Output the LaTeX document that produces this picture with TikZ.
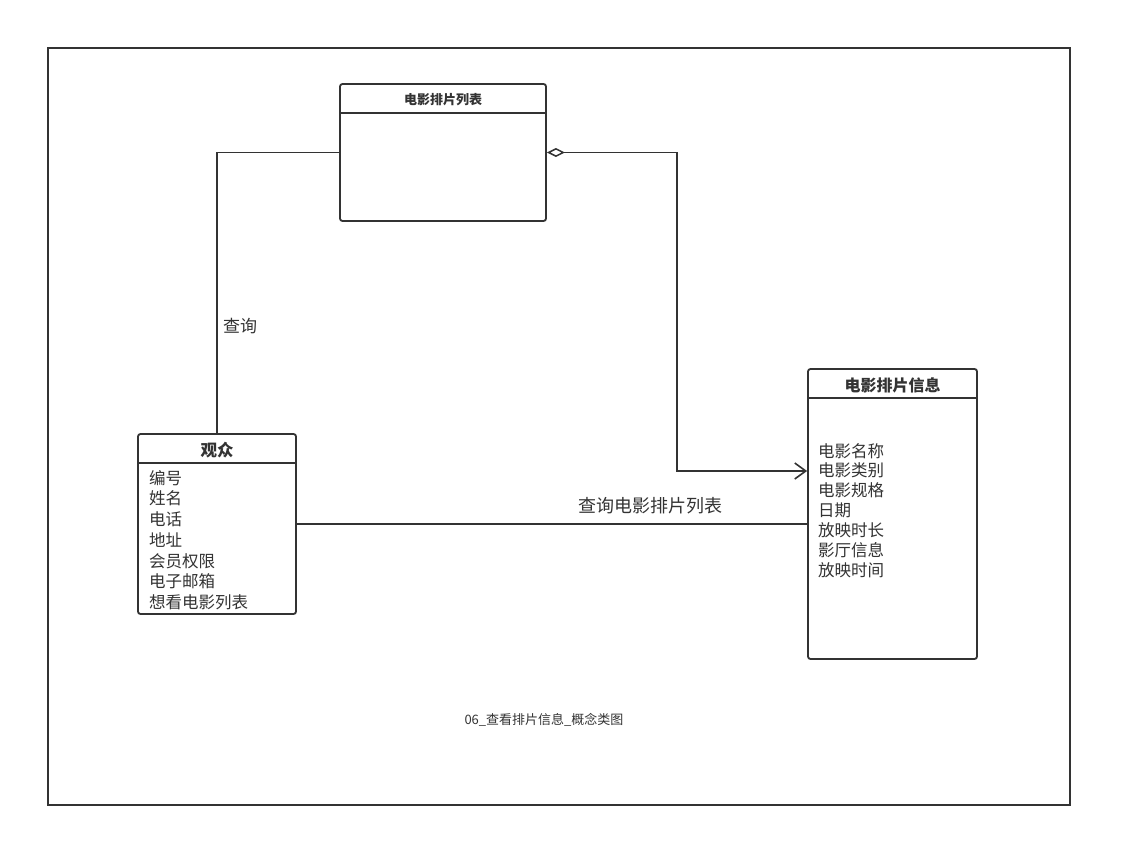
\documentclass[tikz,border=0pt]{standalone}
\usepackage{fontspec}
\setmainfont{Noto Sans CJK SC}
\usetikzlibrary{arrows.meta,calc}
\definecolor{ink}{HTML}{333333}
\tikzset{
  cls/.style={draw=ink, line width=1.8pt, rounded corners=2.5pt, inner sep=0pt, fill=white},
  hdr/.style={draw=ink, line width=1.8pt},
  conn/.style={draw=ink, line width=1.8pt},
  attr/.style={anchor=west, inner sep=0pt, text=ink, font=\fontsize{16.5}{16.5}\selectfont},
  lbl/.style={inner sep=0pt, text=ink},
}
\begin{document}
\begin{tikzpicture}[x=1pt,y=-1pt]
\useasboundingbox (0,0) rectangle (1132,867);
\fill[white] (0,0) rectangle (1132,867);
\draw[ink, line width=1.5pt] (48,48) rectangle (1070,805);

% classes
\node[cls, minimum width=206, minimum height=137] (list) at (443,152.5) {};
\draw[hdr] ($(list.north west)+(0,30)$) -- ($(list.north east)+(0,30)$);
\node[lbl, font=\bfseries\fontsize{13}{13}\selectfont] (listT) at (443,100) {电影排片列表};

\node[cls, minimum width=158, minimum height=180] (viewer) at (217,524) {};
\draw[hdr] ($(viewer.north west)+(0,30)$) -- ($(viewer.north east)+(0,30)$);
\node[lbl, font=\bfseries\fontsize{16.5}{16.5}\selectfont] (viewerT) at (217,450) {观众};
\foreach \t/\y [count=\i] in {编号/478, 姓名/498, 电话/519, 地址/540, 会员权限/561, 电子邮箱/581, 想看电影列表/602}
  \node[attr] (va\i) at (149,\y) {\t};

\node[cls, minimum width=169, minimum height=290] (info) at (892.5,514) {};
\draw[hdr] ($(info.north west)+(0,30)$) -- ($(info.north east)+(0,30)$);
\node[lbl, font=\bfseries\fontsize{16}{16}\selectfont] (infoT) at (892.5,385) {电影排片信息};
\foreach \t/\y [count=\i] in {电影名称/451, 电影类别/470, 电影规格/490, 日期/510, 放映时长/530, 影厅信息/550, 放映时间/570}
  \node[attr] (ia\i) at (818,\y) {\t};

% connectors
\draw[conn] (viewer.north) |- (list.west);
\node[lbl, font=\fontsize{17}{17}\selectfont] (q1) at (240,326) {查询};

\coordinate (bend) at (677,471);
\draw[conn, {Diamond[open, length=18pt, width=9pt, line width=1.5pt]}-{Straight Barb[length=11pt, width=16pt, line width=1.6pt]}]
  (list.east) -| (bend) -- (bend -| info.west);

\draw[conn] (viewer.east) -- (viewer.east -| info.west);
\node[lbl, font=\fontsize{18}{18}\selectfont] (q2) at (650,506) {查询电影排片列表};

\node[lbl, font=\fontsize{13}{13}\selectfont] (cap) at (544,720) {06\_查看排片信息\_概念类图};
\end{tikzpicture}
\end{document}
